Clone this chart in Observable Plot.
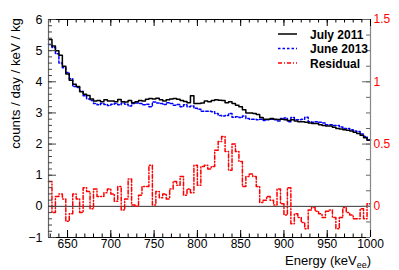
<!DOCTYPE html>
<html>
<head>
<meta charset="utf-8">
<script src="https://cdn.jsdelivr.net/npm/d3@7"></script>
<script src="https://cdn.jsdelivr.net/npm/@observablehq/plot@0.6"></script>
<style>
  html, body { margin: 0; padding: 0; background: white; }
</style>
</head>
<body>
<div id="chart"></div>
<script>
// Bin lower edges (keV_ee), 4 keV wide; the last bin ends at 1000
const binLow = [628,632,636,640,644,648,652,656,660,664,668,672,676,680,684,688,692,696,700,704,708,712,716,720,724,728,732,736,740,744,748,752,756,760,764,768,772,776,780,784,788,792,796,800,804,808,812,816,820,824,828,832,836,840,844,848,852,856,860,864,868,872,876,880,884,888,892,896,900,904,908,912,916,920,924,928,932,936,940,944,948,952,956,960,964,968,972,976,980,984,988,992,996];
const binHigh = 1000;

// July 2011 (counts / day / keV / kg)
const july2011 = [5.36,5.15,5.0,4.85,4.5,4.25,4.05,3.92,3.85,3.68,3.6,3.56,3.45,3.38,3.4,3.36,3.42,3.38,3.38,3.36,3.43,3.36,3.35,3.4,3.33,3.36,3.4,3.38,3.44,3.46,3.45,3.47,3.42,3.38,3.42,3.45,3.46,3.44,3.4,3.37,3.33,3.55,3.3,3.3,3.32,3.38,3.36,3.4,3.42,3.41,3.4,3.33,3.36,3.3,3.25,3.2,3.1,3.0,3.0,2.98,2.95,2.85,2.8,2.8,2.82,2.8,2.79,2.8,2.78,2.76,2.78,2.74,2.72,2.72,2.7,2.68,2.66,2.66,2.62,2.6,2.58,2.58,2.54,2.5,2.48,2.46,2.44,2.42,2.38,2.34,2.28,2.2,2.12];

// June 2013
const june2013 = [5.2,5.1,4.9,4.6,4.45,4.3,4.1,3.85,3.82,3.7,3.55,3.45,3.4,3.3,3.26,3.3,3.27,3.24,3.28,3.3,3.26,3.32,3.28,3.22,3.3,3.32,3.3,3.26,3.28,3.2,3.35,3.32,3.3,3.27,3.33,3.3,3.25,3.27,3.2,3.26,3.2,3.22,3.15,3.12,3.05,3.05,3.05,3.04,2.98,2.92,2.9,2.92,2.98,2.86,2.88,2.85,2.9,2.82,2.8,2.8,2.78,2.8,2.76,2.78,2.8,2.78,2.74,2.82,2.84,2.72,2.85,2.78,2.78,2.8,2.86,2.72,2.7,2.72,2.7,2.68,2.62,2.62,2.6,2.6,2.55,2.5,2.5,2.46,2.42,2.4,2.32,2.24,2.14];

// Residual (right-hand axis units)
const residual = [0.20,-0.05,0.08,0.10,0.06,-0.12,-0.06,0.10,0.06,-0.05,0.15,0.12,-0.02,0.14,0.08,0.08,0.11,0.14,0.10,0.04,0.16,-0.03,0.06,0.22,0.01,0.00,0.09,0.16,0.16,0.33,0.01,0.12,0.07,0.10,0.06,0.14,0.20,0.17,0.24,0.09,0.14,0.11,0.33,0.17,0.32,0.33,0.30,0.32,0.45,0.52,0.56,0.44,0.29,0.50,0.44,0.36,0.16,0.24,0.26,0.24,0.16,0.03,0.05,0.08,0.05,0.01,0.14,0.02,-0.07,0.15,-0.14,-0.06,-0.09,-0.13,-0.18,-0.03,-0.01,-0.04,-0.06,-0.09,-0.04,-0.03,-0.09,-0.18,-0.09,-0.01,-0.05,-0.07,-0.10,-0.10,-0.02,-0.10,0.02];
const residualScale = 4; // right axis value = left axis value / 4

// Axis ticks and labels
const xTicks = [650,700,750,800,850,900,950,1000];
const yTicks = [-1,0,1,2,3,4,5,6];
const yRightTicks = [0,0.5,1,1.5];
const xDomain = [628, 1000];
const yDomain = [-1, 6];
const legendLabels = ["July 2011", "June 2013", "Residual"];
const yLabel = "counts / day / keV / kg";
const xLabelMain = "Energy (keV";
const xLabelSub = "ee";

// step-histogram rows (closing point at upper edge of last bin)
function stepRows(vals) {
  const rows = binLow.map((e, i) => ({e, v: vals[i]}));
  rows.push({e: binHigh, v: vals[vals.length - 1]});
  return rows;
}

const W = 399, H = 270, mL = 48, mR = 29, mT = 19, mB = 33;
const pw = W - mL - mR, ph = H - mT - mB;

const xMinor = d3.range(630, 1001, 10);
const yMinor = d3.range(-1, 6.001, 0.2);
const yRMinor = d3.range(-1, 6.001, 0.5);

const colJuly = "#000000", colJune = "#0000ff", colRes = "#ff0000";

const svg = Plot.plot({
  width: W, height: H,
  marginLeft: mL, marginRight: mR, marginTop: mT, marginBottom: mB,
  style: {fontFamily: "'Liberation Sans', Arial, Helvetica, sans-serif", fontSize: "12px", background: "white", overflow: "visible"},
  x: {domain: xDomain},
  y: {domain: yDomain},
  marks: [
    // zero line
    Plot.ruleY([0], {stroke: "#333", strokeWidth: 1}),
    // histograms
    Plot.line(stepRows(residual), {x: "e", y: d => d.v * residualScale, curve: "step-after", stroke: colRes, strokeWidth: 1.5, strokeDasharray: "4,2,1,2"}),
    Plot.line(stepRows(june2013), {x: "e", y: "v", curve: "step-after", stroke: colJune, strokeWidth: 1.5, strokeDasharray: "2.5,2"}),
    Plot.line(stepRows(july2011), {x: "e", y: "v", curve: "step-after", stroke: colJuly, strokeWidth: 1.5}),
    // frame lines
    Plot.ruleY([yDomain[1]], {stroke: "black", strokeWidth: 1}),
    Plot.ruleY([yDomain[0]], {stroke: "black", strokeWidth: 1}),
    Plot.ruleX([xDomain[0]], {stroke: "#666", strokeWidth: 1.2}),
    Plot.ruleX([xDomain[1]], {stroke: "#888", strokeWidth: 1.2}),
    // left ticks
    Plot.tickY(yTicks, {y: d => d, stroke: "#444", insetRight: pw - 8}),
    Plot.tickY(yMinor, {y: d => d, stroke: "#444", insetRight: pw - 4}),
    // right ticks
    Plot.tickY(yRightTicks.map(v => v * residualScale), {y: d => d, stroke: "#666", insetLeft: pw - 8}),
    Plot.tickY(yRMinor, {y: d => d, stroke: "#666", insetLeft: pw - 4}),
    // bottom ticks
    Plot.tickX(xTicks, {x: d => d, stroke: "black", insetTop: ph - 7}),
    Plot.tickX(xMinor, {x: d => d, stroke: "black", insetTop: ph - 3.5}),
    // top ticks
    Plot.tickX(xTicks, {x: d => d, stroke: "black", insetBottom: ph - 7}),
    Plot.tickX(xMinor, {x: d => d, stroke: "black", insetBottom: ph - 3.5}),
    // axis labels
    Plot.axisY(yTicks, {anchor: "left", tickSize: 0, tickPadding: 6, label: null, fontSize: 12.5, fill: "black"}),
    Plot.axisY(yRightTicks.map(v => v * residualScale), {anchor: "right", tickSize: 0, tickPadding: 3, label: null, fontSize: 12, fill: colRes, tickFormat: d => String(d / residualScale)}),
    Plot.axisX(xTicks, {anchor: "bottom", tickSize: 0, tickPadding: 2, label: null, fontSize: 12, fill: "black", tickFormat: d => String(d)})
  ]
});

const s = d3.select(svg);
// y label
s.append("text")
  .attr("transform", "translate(20,18) rotate(-90)")
  .attr("text-anchor", "end")
  .attr("font-size", 13.3)
  .attr("fill", "black")
  .text(yLabel);
// x label with subscript
const xl = s.append("text")
  .attr("x", 371).attr("y", 265)
  .attr("text-anchor", "end")
  .attr("font-size", 13)
  .attr("fill", "black");
xl.append("tspan").text(xLabelMain);
xl.append("tspan").attr("font-size", 9).attr("dy", 2.5).text(xLabelSub);
xl.append("tspan").attr("dy", -2.5).text(")");

// legend
const legStyles = [
  {stroke: colJuly, dash: null},
  {stroke: colJune, dash: "2.5,2"},
  {stroke: colRes, dash: "4,2,1,2"}
];
const legY = [34, 48.5, 63];
legendLabels.forEach((lab, i) => {
  const ln = s.append("line")
    .attr("x1", 278).attr("x2", 297)
    .attr("y1", legY[i]).attr("y2", legY[i])
    .attr("stroke", legStyles[i].stroke)
    .attr("stroke-width", 1.5);
  if (legStyles[i].dash) ln.attr("stroke-dasharray", legStyles[i].dash);
  s.append("text")
    .attr("x", 310).attr("y", legY[i] + 4.5)
    .attr("text-anchor", "start")
    .attr("font-size", 12)
    .attr("font-weight", "bold")
    .attr("fill", "black")
    .text(lab);
});

document.getElementById("chart").appendChild(svg);
</script>
</body>
</html>
